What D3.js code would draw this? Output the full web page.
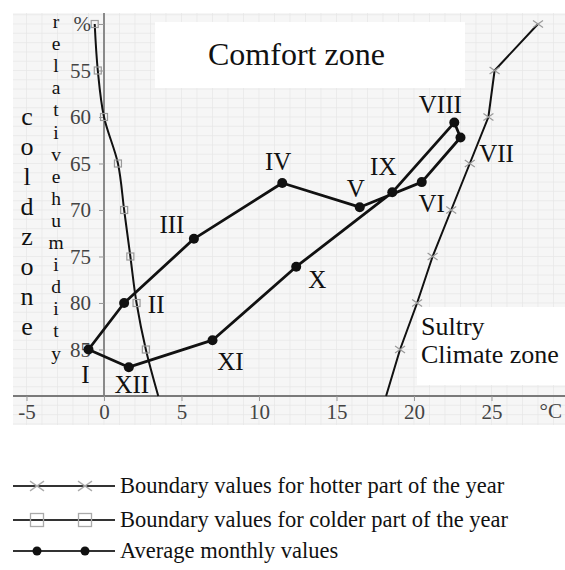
<!DOCTYPE html>
<html>
<head>
<meta charset="utf-8">
<script src="https://cdn.jsdelivr.net/npm/d3@7"></script>
<style>
  html, body { margin: 0; padding: 0; background: #fff; }
  svg { display: block; }
  text { font-family: "Liberation Serif", "Times New Roman", serif; }
</style>
</head>
<body>
<svg id="chart" width="565" height="570"></svg>
<script>
// ---- data ----
const months = ["I","II","III","IV","V","VI","VII","VIII","IX","X","XI","XII"];
const monthTemp = [-1.0, 1.3, 5.8, 11.5, 16.5, 20.5, 23.0, 22.6, 18.6, 12.4, 7.0, 1.6];
const monthRH   = [85.0, 80.0, 73.1, 67.1, 69.7, 67.0, 62.2, 60.6, 68.1, 76.1, 84.0, 86.9];

const coldTemp = [-0.6, -0.4, 0.0, 0.9, 1.3, 1.7, 2.1, 2.7];
const coldRH   = [50, 55, 60, 65, 70, 75, 80, 85];
const coldEndTemp = 3.5, coldEndRH = 90;

const hotTemp = [28.0, 25.2, 24.8, 23.6, 22.4, 21.2, 20.2, 19.1];
const hotRH   = [50, 55, 60, 65, 70, 75, 80, 85];
const hotEndTemp = 18.2, hotEndRH = 90;

const xTicks = [-5, 0, 5, 10, 15, 20, 25];
const yTicks = [50, 55, 60, 65, 70, 75, 80, 85];
const yTickLabels = ["%", "55", "60", "65", "70", "75", "80", "85"];

const legendLabels = [
  "Boundary values for hotter part of the year",
  "Boundary values for colder part of the year",
  "Average monthly values"
];

// ---- layout ----
const svg = d3.select("#chart");
const x = d3.scaleLinear().domain([-5, 25]).range([26.5, 491.5]);
const y = d3.scaleLinear().domain([50, 90]).range([24, 396]);

// label offsets (layout only)
const labelOffset = {
  "I":[-3,33], "II":[32,10], "III":[-22,-6], "IV":[-4,-13], "V":[-4,-10],
  "VI":[10,30], "VII":[36,25], "VIII":[-14,-10], "IX":[-9,-17],
  "X":[21,21], "XI":[18,30], "XII":[3,26]
};

// background with faint grid
svg.append("rect").attr("x", 13).attr("y", 13).attr("width", 552).attr("height", 412).attr("fill", "#f6f6f6");
const grid = svg.append("g").attr("stroke", "#e6e6e6").attr("stroke-width", 0.7);
for (let t = -5; t <= 29; t += 1) {
  grid.append("line").attr("x1", x(t)).attr("x2", x(t)).attr("y1", 13).attr("y2", 425);
}
for (let r = 49; r <= 93; r += 1) {
  if (y(r) < 13 || y(r) > 425) continue;
  grid.append("line").attr("x1", 13).attr("x2", 565).attr("y1", y(r)).attr("y2", y(r));
}

// white boxes behind zone labels
svg.append("rect").attr("x", 155).attr("y", 22).attr("width", 310).attr("height", 66).attr("fill", "#fff");
svg.append("rect").attr("x", 417).attr("y", 307).attr("width", 148).attr("height", 78).attr("fill", "#fff");

// axes lines
svg.append("line").attr("x1", x(0)).attr("x2", x(0)).attr("y1", 13).attr("y2", 396)
  .attr("stroke", "#8a8a8a").attr("stroke-width", 2);
svg.append("line").attr("x1", 13).attr("x2", 565).attr("y1", 396).attr("y2", 396)
  .attr("stroke", "#7a7a7a").attr("stroke-width", 2);

const xAxis = svg.append("g").attr("transform", "translate(0,396)")
  .call(d3.axisBottom(x).tickValues(xTicks).tickSize(5).tickPadding(3).tickFormat(d => d));
xAxis.select(".domain").remove();
xAxis.selectAll("line").attr("stroke", "#999");
xAxis.selectAll("text").attr("font-size", 21).attr("fill", "#444")
  .attr("font-family", "Liberation Serif, Times New Roman, serif");

const yAxis = svg.append("g").attr("transform", `translate(${x(0)},0)`)
  .call(d3.axisLeft(y).tickValues(yTicks).tickSize(5).tickPadding(8)
    .tickFormat((d, i) => yTickLabels[i]));
yAxis.select(".domain").remove();
yAxis.selectAll("line").attr("stroke", "#999");
yAxis.selectAll("text").attr("font-size", 21).attr("fill", "#444")
  .attr("font-family", "Liberation Serif, Times New Roman, serif");

svg.append("text").attr("x", 562).attr("y", 418).attr("text-anchor", "end")
  .attr("font-size", 21).attr("fill", "#444").text("°C");

// zone texts
svg.append("text").attr("x", 208).attr("y", 65).attr("font-size", 32).attr("fill", "#111").text("Comfort zone");
svg.append("text").attr("x", 421).attr("y", 335).attr("font-size", 26).attr("fill", "#111").text("Sultry");
svg.append("text").attr("x", 421).attr("y", 363).attr("font-size", 26).attr("fill", "#111").text("Climate zone");

// vertical stacked words (one text element each, letters as tspans)
const coldText = svg.append("text").attr("x", 27).attr("y", 125).attr("text-anchor", "middle")
  .attr("font-size", 26).attr("fill", "#111");
"coldzone".split("").forEach((ch, i) => {
  coldText.append("tspan").attr("x", 27).attr("dy", i === 0 ? 0 : 30).text(ch);
});
const rhText = svg.append("text").attr("x", 56).attr("y", 28).attr("text-anchor", "middle")
  .attr("font-size", 19.5).attr("fill", "#111");
"relativehumidity".split("").forEach((ch, i) => {
  rhText.append("tspan").attr("x", 56).attr("dy", i === 0 ? 0 : 22.1).text(ch);
});

// boundary lines
const coldPts = coldTemp.map((t, i) => [t, coldRH[i]]);
const hotPts = hotTemp.map((t, i) => [t, hotRH[i]]);

svg.append("path").datum(coldPts.concat([[coldEndTemp, coldEndRH]]))
  .attr("d", d3.line().x(d => x(d[0])).y(d => y(d[1])).curve(d3.curveMonotoneY))
  .attr("fill", "none").attr("stroke", "#111").attr("stroke-width", 2);
svg.append("path").datum(hotPts.concat([[hotEndTemp, hotEndRH]]))
  .attr("d", d3.line().x(d => x(d[0])).y(d => y(d[1])))
  .attr("fill", "none").attr("stroke", "#111").attr("stroke-width", 2);

svg.append("g").selectAll("rect").data(coldPts).join("rect")
  .attr("x", d => x(d[0]) - 3.5).attr("y", d => y(d[1]) - 3.5).attr("width", 7).attr("height", 7)
  .attr("fill", "none").attr("stroke", "#999").attr("stroke-width", 1.2);

const cross = (g, cx, cy, s) => {
  g.append("line").attr("x1", cx - s).attr("y1", cy - s * 0.7).attr("x2", cx + s).attr("y2", cy + s * 0.7);
  g.append("line").attr("x1", cx - s).attr("y1", cy + s * 0.7).attr("x2", cx + s).attr("y2", cy - s * 0.7);
};
const crossG = svg.append("g").attr("stroke", "#999").attr("stroke-width", 1.2);
hotPts.forEach(d => cross(crossG, x(d[0]), y(d[1]), 5));

// monthly values
const monthPts = months.map((m, i) => [monthTemp[i], monthRH[i], m]);
svg.append("path").datum(monthPts)
  .attr("d", d3.line().x(d => x(d[0])).y(d => y(d[1])).curve(d3.curveLinearClosed))
  .attr("fill", "none").attr("stroke", "#111").attr("stroke-width", 2.8).attr("stroke-linejoin", "round");
svg.append("g").selectAll("circle").data(monthPts).join("circle")
  .attr("cx", d => x(d[0])).attr("cy", d => y(d[1])).attr("r", 5).attr("fill", "#111");
svg.append("g").selectAll("text").data(monthPts).join("text")
  .attr("x", d => x(d[0]) + labelOffset[d[2]][0])
  .attr("y", d => y(d[1]) + labelOffset[d[2]][1])
  .attr("text-anchor", "middle").attr("font-size", 25).attr("fill", "#111")
  .text(d => d[2]);

// legend
const legY = [486, 520, 551];
legendLabels.forEach((lab, i) => {
  const g = svg.append("g");
  const ly = legY[i];
  g.append("line").attr("x1", 13).attr("x2", 115).attr("y1", ly).attr("y2", ly)
    .attr("stroke", "#333").attr("stroke-width", 2);
  [37, 85].forEach(mx => {
    if (i === 0) {
      const cg = g.append("g").attr("stroke", "#aaa").attr("stroke-width", 1.3);
      cross(cg, mx, ly, 7);
    } else if (i === 1) {
      g.append("rect").attr("x", mx - 6.5).attr("y", ly - 6.5).attr("width", 13).attr("height", 13)
        .attr("fill", "none").attr("stroke", "#aaa").attr("stroke-width", 1.3);
    } else {
      g.append("circle").attr("cx", mx).attr("cy", ly).attr("r", 4.5).attr("fill", "#111");
    }
  });
  g.append("text").attr("x", 120).attr("y", ly + 7).attr("font-size", 22.5).attr("fill", "#111").text(lab);
});
</script>
</body>
</html>
